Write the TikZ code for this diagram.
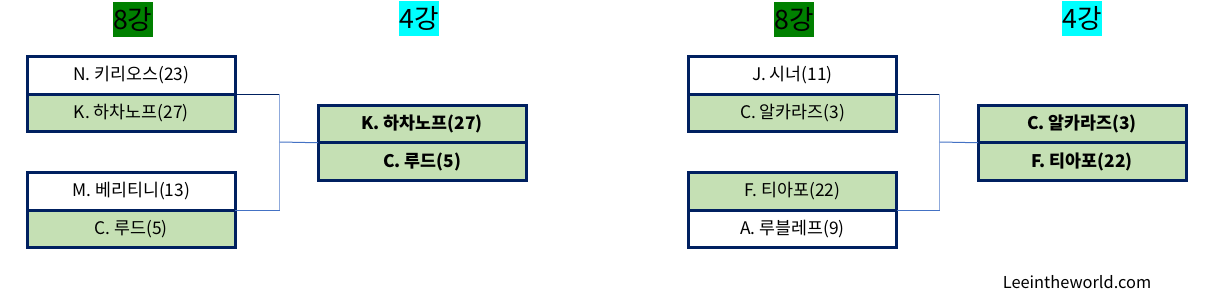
\documentclass[tikz,border=0pt]{standalone}
\usepackage{fontspec}
\setmainfont{Noto Sans CJK KR}
\usepackage{xcolor}
\usepackage{tikz}
\usetikzlibrary{positioning, calc}

\definecolor{boxnavy}{HTML}{002060}
\definecolor{winfill}{HTML}{C5E0B4}
\definecolor{roundgreen}{HTML}{008000}
\definecolor{roundcyan}{HTML}{00FFFF}
\definecolor{wireblue}{HTML}{4472C4}
\definecolor{wirelight}{HTML}{8FAADC}

\begin{document}
\begin{tikzpicture}[x=0.75pt, y=-0.75pt, node distance=0pt]
        % Define styles
        \tikzstyle{player} = [rectangle, minimum width=208*0.75pt, minimum height=37.5*0.75pt, inner sep=0pt, outer sep=0pt, text centered, draw=boxnavy, line width=2.25pt, fill=white, font=\fontsize{13}{15}\selectfont]
        \tikzstyle{winner} = [player, fill=winfill]
        \tikzstyle{round} = [rectangle, minimum width=40*0.75pt, minimum height=35*0.75pt, inner sep=0pt, font=\fontsize{20}{22}\selectfont]
        \tikzstyle{wire} = [line width=0.75pt, draw=wireblue]

        \useasboundingbox (0,0) rectangle (1212,307);

        % Round titles
        \node (r8a) [round, fill=roundgreen] at (132.7,19.2) {8강};
        \node (r4a) [round, fill=roundcyan] at (419,18.5) {4강};
        \node (r8b) [round, fill=roundgreen] at (794,19.2) {8강};
        \node (r4b) [round, fill=roundcyan] at (1082,18.5) {4강};

        % Left bracket: quarter-finals
        \node (kyr) [player] at (131.2,75.25) {N. 키리오스(23)};
        \node (kha) [winner, below=of kyr] {K. 하차노프(27)};
        \node (ber) [player] at (131.2,191.5) {M. 베리티니(13)};
        \node (rud) [winner, below=of ber] {C. 루드(5)};

        % Left bracket: semi-final
        \node (skha) [winner] at (422,124) {\bfseries K. 하차노프(27)};
        \node (srud) [winner, below=of skha] {\bfseries C. 루드(5)};

        % Right bracket: quarter-finals
        \node (sin) [player] at (792.5,75.25) {J. 시너(11)};
        \node (alc) [winner, below=of sin] {C. 알카라즈(3)};
        \node (tia) [winner] at (792.5,191.5) {F. 티아포(22)};
        \node (rub) [player, below=of tia] {A. 루블레프(9)};

        % Right bracket: semi-final
        \node (salc) [winner] at (1082,124) {\bfseries C. 알카라즈(3)};
        \node (stia) [winner, below=of salc] {\bfseries F. 티아포(22)};

        % Joints
        \coordinate (j1) at (279.7,142);
        \coordinate (j2) at (939.7,142);

        % Connectors
        \draw [wire, draw=boxnavy] (kyr.south east) -- (kyr.south east -| j1);
        \draw [wire, draw=wirelight] (kyr.south east -| j1) -- (ber.south east -| j1);
        \draw [wire] (ber.south east) -- (ber.south east -| j1);
        \draw [wire] (j1) -- (skha.south west);
        \draw [wire, draw=boxnavy] (sin.south east) -- (sin.south east -| j2);
        \draw [wire, draw=wirelight] (sin.south east -| j2) -- (tia.south east -| j2);
        \draw [wire] (tia.south east) -- (tia.south east -| j2);
        \draw [wire] (j2) -- (salc.south west);

        % Site mark
        \node (site) [font=\fontsize{12.3}{14}\selectfont] at (1077,282) {Leeintheworld.com};
\end{tikzpicture}
\end{document}
